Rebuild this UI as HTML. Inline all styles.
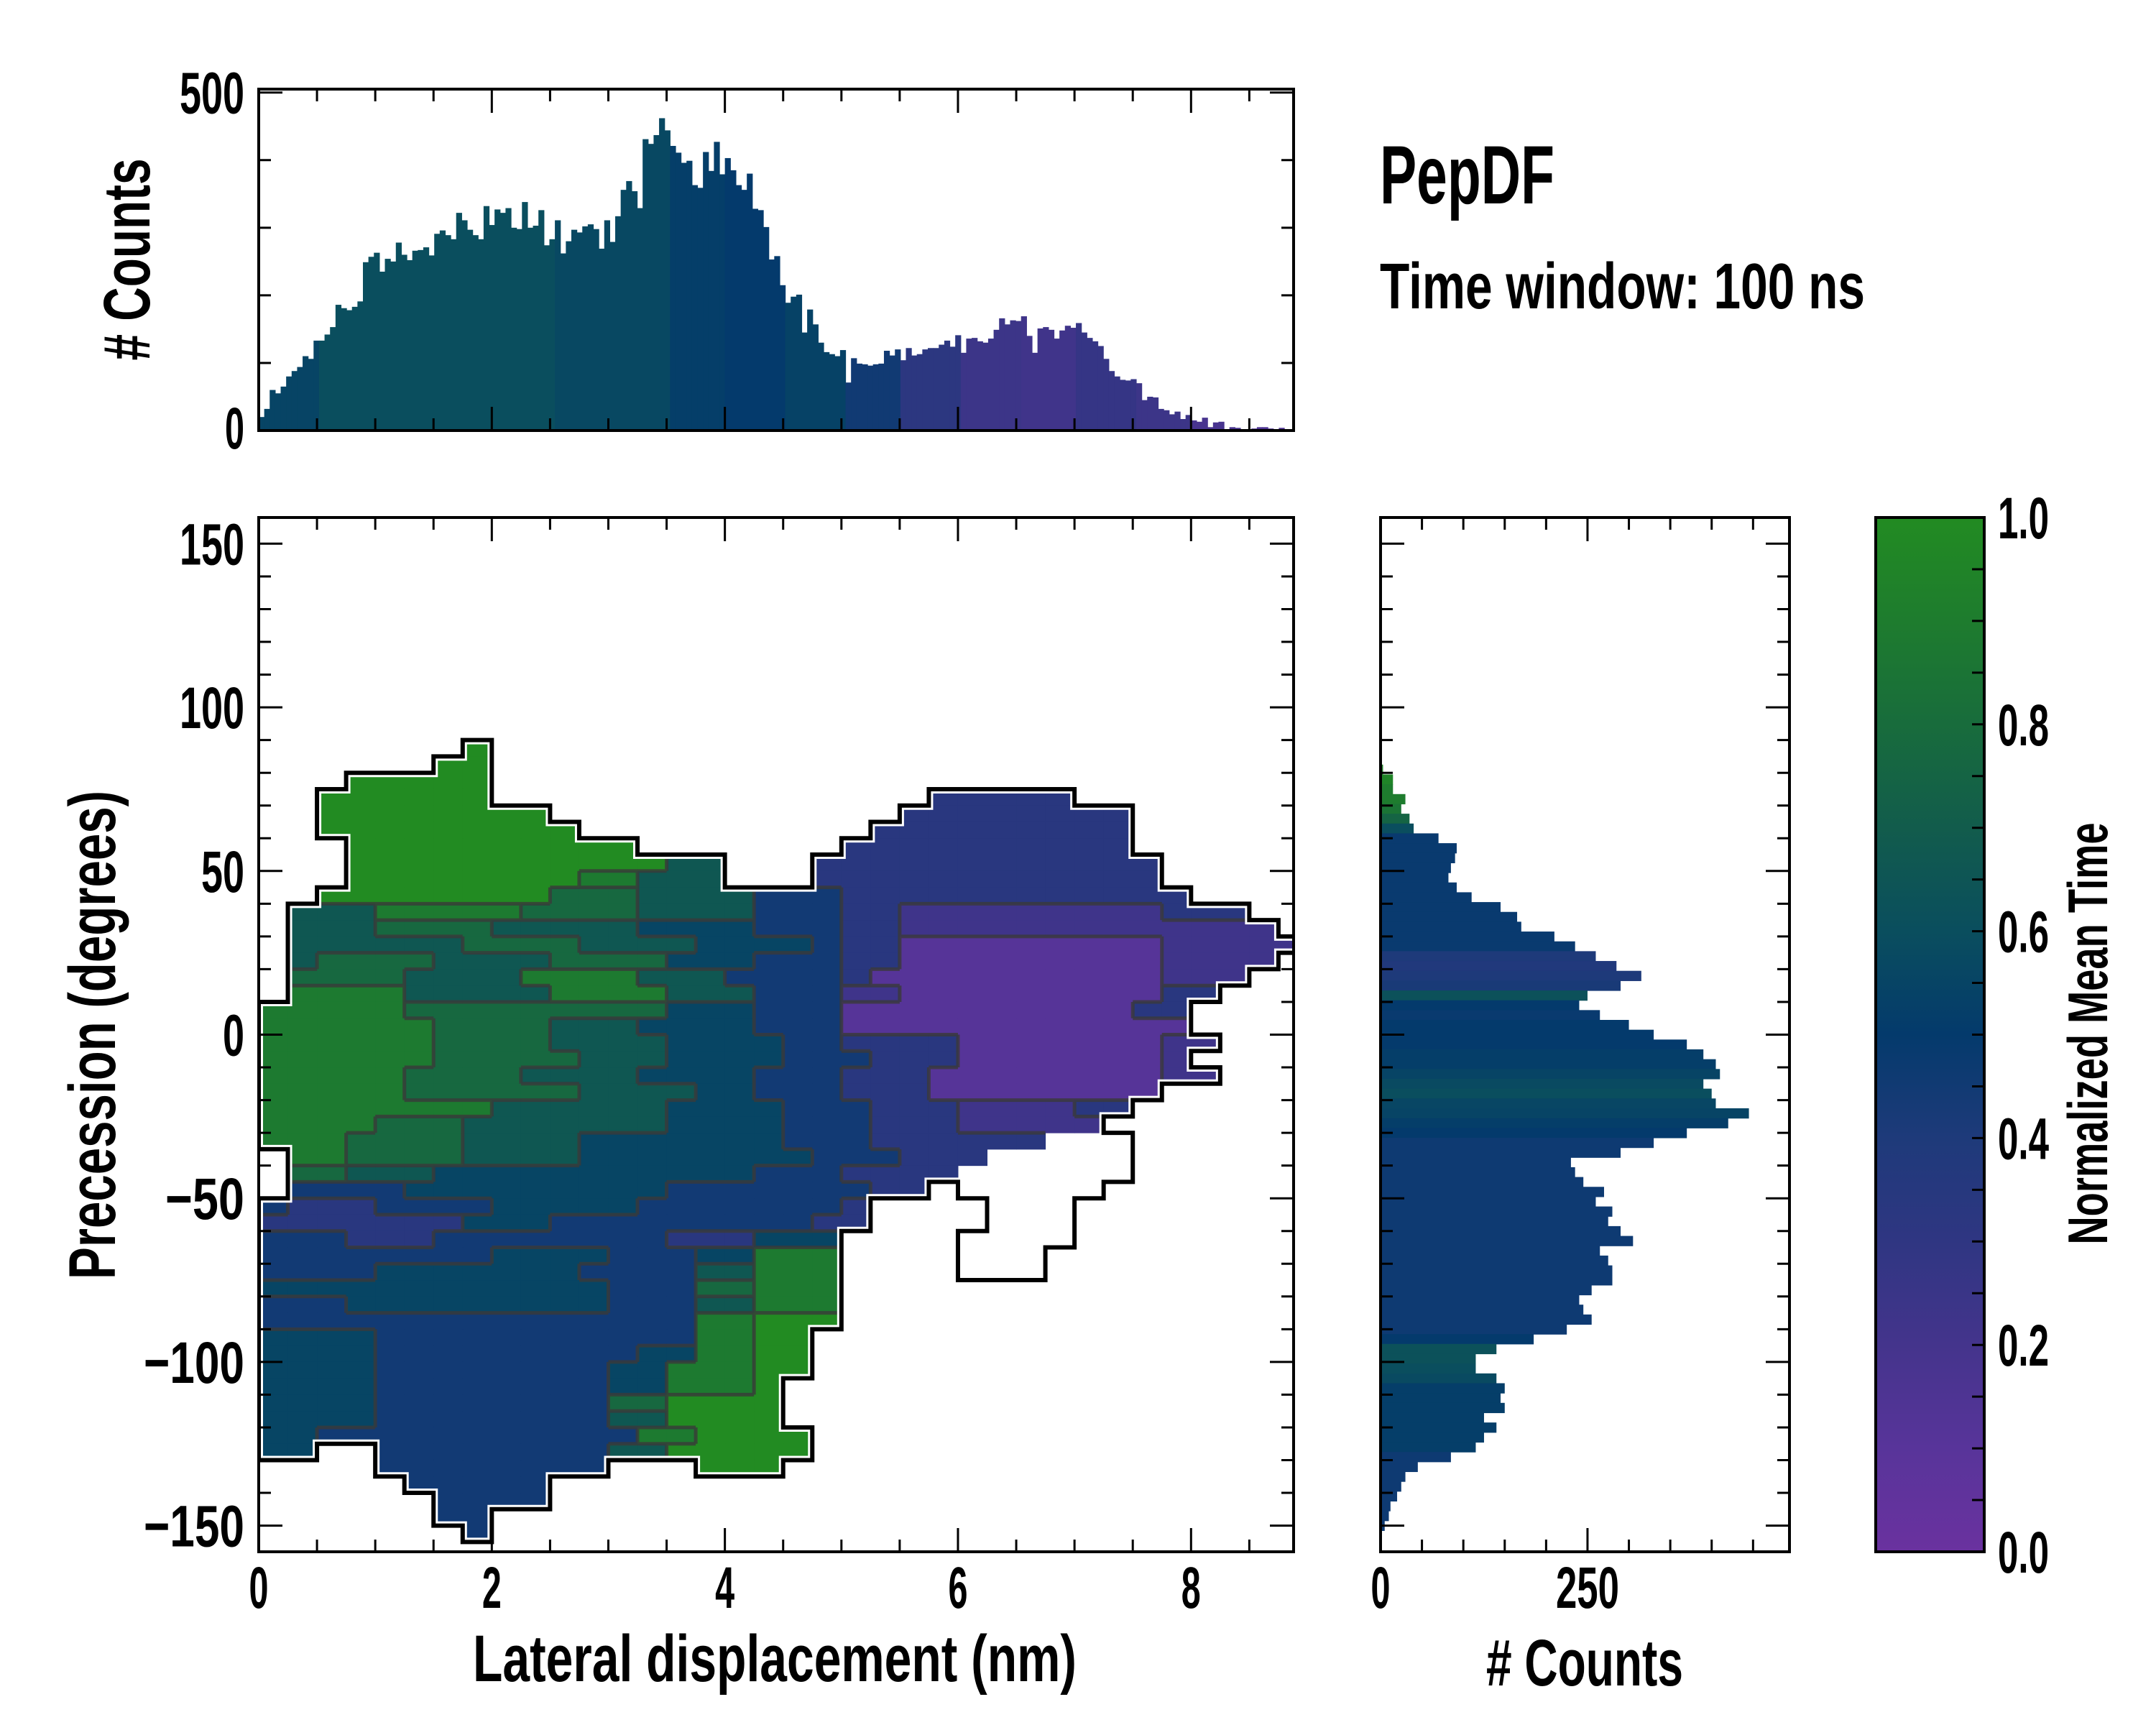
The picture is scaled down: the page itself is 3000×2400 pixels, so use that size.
<!DOCTYPE html>
<html><head><meta charset="utf-8"><title>PepDF</title>
<style>html,body{margin:0;padding:0;background:#fff}svg{display:block}text{font-family:"Liberation Sans",sans-serif;font-weight:bold}</style>
</head><body>
<svg id="fig" xmlns="http://www.w3.org/2000/svg" width="3000" height="2400" viewBox="0 0 3000 2400">
<defs>
<clipPath id="mainClip"><rect x="360" y="720" width="1440" height="1439"/></clipPath>
<linearGradient id="cbGrad" x1="0" y1="1" x2="0" y2="0">
<stop offset="0" stop-color="#6a329f"/><stop offset="0.1" stop-color="#58349a"/><stop offset="0.2" stop-color="#44348c"/><stop offset="0.3" stop-color="#2f3682"/><stop offset="0.4" stop-color="#1e3a7a"/><stop offset="0.5" stop-color="#043a6c"/><stop offset="0.6" stop-color="#0a4e5e"/><stop offset="0.7" stop-color="#125c4c"/><stop offset="0.8" stop-color="#186c3c"/><stop offset="0.9" stop-color="#1e7c2e"/><stop offset="1" stop-color="#228b22"/>
</linearGradient>
</defs>
</svg>
<script>
// ---------- data ----------
const topBinWidth = 8.8 / 187;
const topCounts = [20,32,60,55,65,80,88,94,110,106, 133,133,142,153,186,181,178,183,191,249, 257,263,235,254,250,278,260,252,266,267, 271,259,291,296,289,283,322,311,297,289, 283,332,304,327,322,329,300,298,338,300, 303,326,274,283,311,262,280,297,293,302, 305,298,269,311,279,317, 356,369,354,329,431,424,437,462,444,421, 411,396,399,363,359,412,384,427,379,403, 385,363,356,380,328,326,301,253,258,215, 189,198,201,145,179,157,130,116,113,110, 119,71,107,99,98,96,98,99,118,111, 120,104,122,111,113,120,122,122,127,133, 124,141,115,136, 137,132,130,136,149,166,157,163,162,169, 140,115,151,153,149,136,148,155,152,159, 145,137,132,125,106,88,80,75,74,76, 70,45,50,49,32,30,24,28,17,23, 15,13,19,5,12,13,0,5,4,2, 2,3,5,5,3,2,4];
const topMeanTime = [0.55,0.6,0.6,0.6,0.6,0.57,0.57,0.52,0.5,0.54,0.45,0.32,0.24,0.22,0.27,0.24,0.18,0.15];
const rightBinStart = 81, rightBinStep = -3;
const rightCounts = [3,15,15,30,25,35,40,70,92,90, 85,82,92,110,145,165,170,210,235,260, 285,315,290,250,240,265,300,330,370,390, 405,410,390,400,405,445,420,370,330,290, 230,235,245,270,260,280,275,290,305,265, 275,280,280,255,240,245,255,225,185,140, 115,115,140,150,145,150,125,140,125,115, 85,45,30,25,20,12,10,5];
const rightMeanTime = [0.95,0.95,0.9,0.9,0.85, 0.75,0.6, 0.48,0.48,0.48,0.48,0.48,0.48,0.48,0.48,0.48,0.48,0.48,0.48, 0.4,0.38,0.4,0.42, 0.62,0.5,0.48,0.5,0.5,0.5,0.52,0.52, 0.55,0.58,0.6,0.56,0.55,0.52, 0.5, 0.46,0.46,0.46,0.46,0.46,0.46,0.46,0.46,0.46,0.46,0.46,0.46,0.46,0.46,0.46,0.46,0.46,0.46,0.46,0.46, 0.5, 0.62,0.62,0.6,0.58, 0.52,0.52,0.52,0.52,0.52,0.52,0.52, 0.46,0.46,0.46,0.46,0.46,0.46,0.46,0.46];
// 2D map: rows of 5 deg from 90 down, cols of 0.25 nm; runs "c0-c1:v" (v digit = meanTime*9, o = empty contour)
const mapCellX = 0.25, mapCellY = 5, mapTop = 90;
const mapRows = [
"7-7:9","6-7:9","3-7:9","2-7:9,23-27:3","2-9:9,22-29:3","2-10:9,21-29:3","3-12:9,20-29:3",
"3-13:9,14-15:6,19-30:3","3-10:9,11-12:8,13-15:6,19-30:3","2-9:9,10-12:7,13-16:6,17-19:4,20-31:3",
"1-3:6,4-8:8,9-12:7,13-16:6,17-19:4,20-21:3,22-30:2,31-33:3",
"1-3:6,4-7:7,8-12:6,13-16:5,17-19:4,20-21:3,22-30:2,31-34:2",
"1-6:6,7-10:7,11-14:6,15-18:5,19-19:4,20-21:3,22-30:1,31-35:2",
"1-1:6,2-5:7,6-9:6,10-13:7,14-16:5,17-19:4,20-21:3,22-30:1,31-34:2",
"1-4:7,5-8:6,9-12:8,13-15:6,16-19:4,20-20:3,21-30:1,31-33:2",
"1-4:8,5-9:6,10-13:8,14-16:6,17-19:4,20-21:2,22-30:1,31-32:3",
"0-4:8,5-13:7,14-16:5,17-19:4,20-29:1,30-31:3",
"0-5:8,6-9:7,10-12:6,13-16:5,17-19:4,20-31:1",
"0-5:8,6-9:7,10-13:6,14-17:5,18-19:4,20-23:3,24-30:1,31-32:2",
"0-5:8,6-10:7,11-13:6,14-17:5,18-20:4,21-23:3,24-30:1,31-31:2",
"0-4:8,5-8:7,9-12:6,13-16:5,17-19:4,20-22:3,23-30:1,31-32:2",
"0-4:8,5-10:7,11-14:6,15-16:5,17-19:4,20-22:3,23-30:1",
"0-7:8,8-13:6,14-17:5,18-20:4,21-23:3,24-27:2,28-29:3",
"0-3:8,4-6:7,7-13:6,14-17:5,18-20:4,21-23:3,24-28:2",
"0-2:8,3-6:7,7-10:6,11-17:5,18-20:4,21-26:3,27-29:o",
"1-2:8,3-6:7,7-10:6,11-18:5,19-21:4,22-24:3,25-29:o",
"1-2:7,3-5:6,6-16:5,17-19:4,20-23:3,24-29:o",
"1-4:4,5-13:5,14-20:4,21-22:3,24-28:o",
"0-0:4,1-3:3,4-7:4,8-12:5,13-19:4,20-20:3,25-27:o",
"0-6:3,7-9:5,10-18:4,19-20:3,25-27:o",
"0-2:4,3-5:3,6-13:4,14-16:3,17-19:5,24-27:o",
"0-7:4,8-11:5,12-14:4,15-16:5,17-19:8,24-26:o",
"0-3:4,4-10:5,11-14:4,15-16:6,17-19:8,24-26:o",
"0-11:5,12-14:4,15-16:7,17-19:8",
"0-2:4,3-11:5,12-14:4,15-16:6,17-19:8",
"0-14:4,15-16:8,17-19:9",
"0-3:5,4-14:4,15-16:8,17-18:9",
"0-3:5,4-12:4,13-14:5,15-16:8,17-18:9",
"0-3:5,4-11:4,12-13:5,14-16:8,17-18:9",
"0-3:5,4-11:4,12-13:5,14-16:8,17-17:9",
"0-3:5,4-11:4,12-13:7,14-17:9",
"0-3:5,4-11:4,12-13:6,14-17:9",
"0-1:5,2-12:4,13-14:8,15-18:9",
"0-1:5,4-11:4,12-13:6,14-18:9",
"4-11:4,15-17:9","5-9:4","6-9:4","6-7:4","7-7:4"];
const xTickLabels = ["0","2","4","6","8"];
const yTickLabels = ["150","100","50","0","\u221250","\u2212100","\u2212150"];
const cbTickLabels = ["0.0","0.2","0.4","0.6","0.8","1.0"];

// ---------- scales ----------
const NS = "http://www.w3.org/2000/svg";
const svg = document.getElementById('fig');
const L = 360, R = 1800, T = 720, B = 2159;
const XMAX = 8.88, YMIN = -158, YMAX = 158;
const X = v => L + v / XMAX * (R - L);
const Y = v => B - (v - YMIN) / (YMAX - YMIN) * (B - T);
const HT = 124, HB = 599, HMAX = 505;
const HY = v => HB - v / HMAX * (HB - HT);
const RL = 1921, RR = 2490, RMAX = 494;
const RX = v => RL + v / RMAX * (RR - RL);
const CL = 2610, CR = 2761;
const CY = v => B - v * (B - T);
const stops = [[0,"#6a329f"],[0.1,"#58349a"],[0.2,"#44348c"],[0.3,"#2f3682"],[0.4,"#1e3a7a"],[0.5,"#043a6c"],[0.6,"#0a4e5e"],[0.7,"#125c4c"],[0.8,"#186c3c"],[0.9,"#1e7c2e"],[1,"#228b22"]];
function hex(h){return [1,3,5].map(i=>parseInt(h.substr(i,2),16));}
function cmap(t){t=Math.max(0,Math.min(1,t));for(let i=1;i<stops.length;i++){if(t<=stops[i][0]){const a=hex(stops[i-1][1]),b=hex(stops[i][1]);const f=(t-stops[i-1][0])/(stops[i][0]-stops[i-1][0]);return "rgb("+a.map((v,k)=>Math.round(v+(b[k]-v)*f)).join(",")+")";}}return stops[stops.length-1][1];}

function el(tag, attrs, parent){const e=document.createElementNS(NS,tag);for(const k in attrs)e.setAttribute(k,attrs[k]);(parent||svg).appendChild(e);return e;}
function label(x,y,str,size,anchor,len,rot,parent){
  const t=el('text',{x:0,y:0,'font-size':size,'text-anchor':anchor,fill:'#000'},parent);
  let tr='translate('+x+','+y+')'; if(rot) tr+=' rotate('+rot+')';
  t.setAttribute('transform',tr);
  if(len){t.setAttribute('textLength',len);t.setAttribute('lengthAdjust','spacingAndGlyphs');}
  t.textContent=str; return t;}
function tick(x1,y1,x2,y2,parent){return el('line',{x1:x1,y1:y1,x2:x2,y2:y2,stroke:'#000','stroke-width':3},parent);}

// ---------- top histogram ----------
const gTop = el('g',{});


topCounts.forEach((c,i)=>{
  const x0=i*topBinWidth;
  const r=el('rect',{x:X(x0),y:HY(c),width:X(x0+topBinWidth)-X(x0)+0.6,height:HB-HY(c),fill:cmap(topMeanTime[Math.min(17,Math.floor(x0/0.5))])},gTop);
  
  
});
for(let v=0; v<=8.8; v+=0.5){const major=Math.abs(v/2-Math.round(v/2))<1e-6;const len=major?33:17;tick(X(v),HB,X(v),HB-len,gTop);tick(X(v),HT,X(v),HT+len,gTop);}
for(let v=0; v<=500; v+=100){const len=(v%500===0)?33:17;tick(L,HY(v),L+len,HY(v),gTop);tick(R,HY(v),R-len,HY(v),gTop);}
const topFrame=el('rect',{x:L,y:HT,width:R-L,height:HB-HT,fill:'none',stroke:'#000','stroke-width':4},gTop);


const tl1=label(340,HY(500)+29,"500",82,'end',90,0,gTop);


const tl0=label(340,HY(0)+25,"0",82,'end',27,0,gTop);


const topYT=label(208,361,"# Counts",92,'middle',281,-90,gTop);



// ---------- main heatmap ----------
const gMain = el('g',{});


const gCells = el('g',{'clip-path':'url(#mainClip)'},gMain);
const grid = mapRows.map(row=>{const a=[];row.split(',').forEach(run=>{const [rg,v]=run.split(':');const [s,e]=rg.split('-').map(Number);for(let c=s;c<=e;c++)a[c]=v;});return a;});
const cellX0 = c => X(c*mapCellX), cellY0 = r => Y(mapTop - r*mapCellY);
grid.forEach((row,r)=>{row.forEach((v,c)=>{if(v===undefined||v==='o')return;
  const x0=cellX0(c),x1=cellX0(c+1),y0=cellY0(r),y1=cellY0(r+1);
  const rc=el('rect',{x:x0,y:y0,width:x1-x0+0.5,height:y1-y0+0.5,fill:cmap(Number(v)/9)},gCells);
  
  
});});
const get=(r,c)=>(grid[r]||[])[c];
let inner='', outer='';
grid.forEach((row,r)=>{row.forEach((v,c)=>{if(v===undefined)return;
  const x0=cellX0(c),x1=cellX0(c+1),y0=cellY0(r),y1=cellY0(r+1);
  const nb=[[get(r-1,c),`M${x0},${y0}L${x1},${y0}`],[get(r+1,c),`M${x0},${y1}L${x1},${y1}`],[get(r,c-1),`M${x0},${y0}L${x0},${y1}`],[get(r,c+1),`M${x1},${y0}L${x1},${y1}`]];
  nb.forEach(([n,d],k)=>{ if(n===undefined) outer+=d; else if(v!=='o'&&n!=='o'&&n!==v&&(k%2===1)) inner+=d; });
});});
const innerP=el('path',{d:inner,fill:'none',stroke:'#3a3a3a','stroke-width':5,'stroke-opacity':0.8,'stroke-linejoin':'round'},gCells);


const outerW=el('path',{d:outer,fill:'none',stroke:'#fff','stroke-width':12,'stroke-linecap':'square'},gCells);


const outerP=el('path',{d:outer,fill:'none',stroke:'#000','stroke-width':6,'stroke-linecap':'square'},gCells);


for(let v=0; v<=8.8; v+=0.5){const major=Math.abs(v/2-Math.round(v/2))<1e-6;const len=major?33:17;tick(X(v),B,X(v),B-len,gMain);tick(X(v),T,X(v),T+len,gMain);}
for(let v=-150; v<=150; v+=10){const len=(v%50===0)?33:17;tick(L,Y(v),L+len,Y(v),gMain);tick(R,Y(v),R-len,Y(v),gMain);}
const mainFrame=el('rect',{x:L,y:T,width:R-L,height:B-T,fill:'none',stroke:'#000','stroke-width':4},gMain);


xTickLabels.forEach(s=>{const t=label(X(Number(s)),2237,s,82,'middle',27,0,gMain);
  
  });
yTickLabels.forEach(s=>{const v=Number(s.replace('\u2212','-'));const w=s.length*30-(s[0]==='\u2212'?-20:0);
  const t=label(340,Y(v)+29,s,82,'end',Math.min(w,145),0,gMain);
  
  });
const xT=label(1078,2339,"Lateral displacement (nm)",92,'middle',840,0,gMain);


const yT=label(160,1440,"Precession (degrees)",92,'middle',680,-90,gMain);



// ---------- right histogram ----------
const gRight = el('g',{});


rightCounts.forEach((c,i)=>{
  const d=rightBinStart+i*rightBinStep;
  const r=el('rect',{x:RL,y:Y(d+1.5),width:RX(c)-RL,height:Y(d-1.5)-Y(d+1.5)+0.6,fill:cmap(rightMeanTime[i])},gRight);
  
  
});
for(let v=0; v<=450; v+=50){const len=(v%250===0)?33:17;tick(RX(v),B,RX(v),B-len,gRight);tick(RX(v),T,RX(v),T+len,gRight);}
for(let v=-150; v<=150; v+=10){const len=(v%50===0)?33:17;tick(RL,Y(v),RL+len,Y(v),gRight);tick(RR,Y(v),RR-len,Y(v),gRight);}
const rFrame=el('rect',{x:RL,y:T,width:RR-RL,height:B-T,fill:'none',stroke:'#000','stroke-width':4},gRight);


const r0=label(RX(0),2237,"0",82,'middle',27,0,gRight);


const r250=label(RX(250),2237,"250",82,'middle',88,0,gRight);


const rT=label(2205,2345,"# Counts",92,'middle',274,0,gRight);



// ---------- colorbar ----------
const gCb = el('g',{});


const cbr=el('rect',{x:CL,y:T,width:CR-CL,height:B-T,fill:'url(#cbGrad)',stroke:'#000','stroke-width':4},gCb);


for(let k=1;k<20;k++){tick(CR,CY(k/20),CR-17,CY(k/20),gCb);}
cbTickLabels.forEach(s=>{const t=label(2780,CY(Number(s))+29,s,82,'start',71,0,gCb);
  
  });
const cbT=label(2932,1438,"Normalized Mean Time",78,'middle',587,-90,gCb);



// ---------- titles ----------
const t1=label(1920,283,"PepDF",115,'start',243,0);


const t2=label(1920,429,"Time window: 100 ns",90,'start',675,0);


</script>
</body></html>
